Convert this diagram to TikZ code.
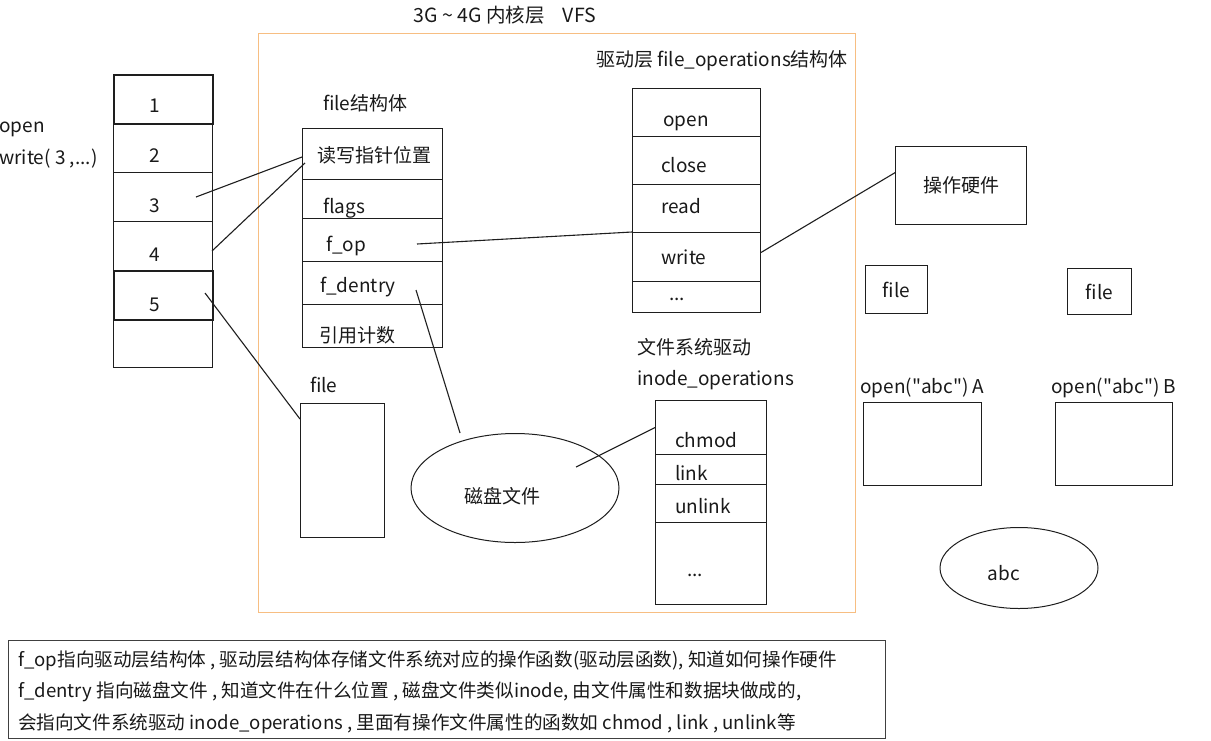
\documentclass[tikz,border=0pt]{standalone}
\usepackage{fontspec}
\setmainfont{Noto Sans CJK SC}[Ligatures=TeXOff]
\usetikzlibrary{positioning}
\usetikzlibrary{shapes.geometric}
\definecolor{vfsorange}{RGB}{247,190,130}
\definecolor{linegray}{RGB}{30,30,30}
\tikzset{cell/.style = {draw=linegray, line width=1pt, inner sep=0, anchor=north west}}
\tikzset{txt/.style = {inner sep=0, anchor=west}}
\tikzset{
  every picture/.style={
    x=1pt, y=-1pt,
    every node/.style={font=\fontsize{19}{22}\selectfont, text=black!90},
  }
}

\begin{document}
\begin{tikzpicture}
  \useasboundingbox (0,0) rectangle (1211,740);
  % kernel area
  \node[cell, draw=vfsorange, line width=1.4pt, minimum width=597, minimum height=579] (vfs) at (258,33) {};
  \node[font=\fontsize{19.5}{22}\selectfont] (vfstitle) at (505,15) {3G \textasciitilde{} 4G 内核层\hspace{18pt}VFS};

  % user space calls
  \node[txt] (open) at (-1,129) {open};
  \node[txt] (write) at (-1,159) {write( 3 ,...)};

  % fd table
  \node[cell, minimum width=99, minimum height=49] (fd2) at (113,123) {};
  \node[cell, minimum width=99, minimum height=49] (fd3) at (113,172) {};
  \node[cell, minimum width=99, minimum height=49] (fd4) at (113,221) {};
  \node[cell, minimum width=99, minimum height=48] (fd6) at (113,319) {};
  \node[cell, line width=1.5pt, minimum width=99, minimum height=49] (fd1) at (113,74) {};
  \node[cell, line width=1.5pt, minimum width=99, minimum height=49] (fd5) at (113,270) {};
  \foreach \i/\y in {1/106,2/156,3/206,4/255,5/305}
    \node (n\i) at (155,\y) {\i};

  % file struct
  \node[txt] (filetitle) at (323,103) {file结构体};
  \node[cell, minimum width=140, minimum height=51] (rw) at (302,128) {};
  \node[cell, minimum width=140, minimum height=39] (flg) at (302,179) {};
  \node[cell, minimum width=140, minimum height=43] (fop) at (302,218) {};
  \node[cell, minimum width=140, minimum height=43] (fden) at (302,261) {};
  \node[cell, minimum width=140, minimum height=43] (cnt) at (302,304) {};
  \node[txt] (trw) at (317,155) {读写指针位置};
  \node[txt] (tflg) at (323,208) {flags};
  \node[txt] (tfop) at (326,246) {f\_op};
  \node[txt] (tfden) at (320,287) {f\_dentry};
  \node[txt] (tcnt) at (319,335) {引用计数};

  % other file
  \node[txt] (fboxtitle) at (310,385) {file};
  \node[cell, minimum width=84, minimum height=134] (fbox) at (300,403) {};

  % file_operations
  \node[txt] (opstitle) at (596,61) {驱动层 file\_operations结构体};
  \node[cell, minimum width=128, minimum height=48] (fopen) at (632,88) {};
  \node[cell, minimum width=128, minimum height=48] (fclose) at (632,136) {};
  \node[cell, minimum width=128, minimum height=48] (fread) at (632,184) {};
  \node[cell, minimum width=128, minimum height=49] (fwrite) at (632,232) {};
  \node[cell, minimum width=128, minimum height=31] (fmore) at (632,281) {};
  \node[txt] (topen) at (663,123) {open};
  \node[txt] (tclose) at (661,165) {close};
  \node[txt] (tread) at (661,206) {read};
  \node[txt] (twrite) at (661,257) {write};
  \node[txt] (tfmore) at (669,299) {...};

  % disk file
  \node[draw=linegray, ellipse, line width=1pt, minimum width=208, minimum height=109] (disk) at (515,488) {};
  \node (tdisk) at (502,496) {磁盘文件};

  % inode_operations
  \node[txt] (inotitle1) at (637,347) {文件系统驱动};
  \node[txt] (inotitle2) at (637,380) {inode\_operations};
  \node[cell, minimum width=111, minimum height=54] (ichmod) at (655,400) {};
  \node[cell, minimum width=111, minimum height=30] (ilink) at (655,454) {};
  \node[cell, minimum width=111, minimum height=38] (iunlink) at (655,484) {};
  \node[cell, minimum width=111, minimum height=82] (imore) at (655,522) {};
  \node[txt] (tchmod) at (675,440) {chmod};
  \node[txt] (tlink) at (675,473) {link};
  \node[txt] (tunlink) at (675,506) {unlink};
  \node[txt] (timore) at (687,575) {...};

  % hardware
  \node[cell, minimum width=131, minimum height=78] (hw) at (895,146) {操作硬件};

  % two processes
  \node[cell, minimum width=62, minimum height=48] (fileA) at (865,265) {file};
  \node[cell, minimum width=64, minimum height=46] (fileB) at (1067,268) {file};
  \node[txt] (topenA) at (860,388) {open("abc") A};
  \node[txt] (topenB) at (1051,388) {open("abc") B};
  \node[cell, minimum width=118, minimum height=83] (procA) at (863,402) {};
  \node[cell, minimum width=117, minimum height=83] (procB) at (1055,402) {};
  \node[draw=linegray, ellipse, line width=1pt, minimum width=158, minimum height=81] (abc) at (1019,568) {};
  \node (tabc) at (1004,573) {abc};

  % connector ends
  \coordinate (c3) at (196,197);
  \coordinate (c4) at (212,251);
  \coordinate (c5) at (205,293);
  \coordinate (crw1) at (302,157);
  \coordinate (crw2) at (305,163);
  \coordinate (cfbox) at (300,419);
  \coordinate (cfop) at (417,244);
  \coordinate (cfden) at (416,290);
  \coordinate (cdisk) at (460,433);
  \coordinate (cdin) at (576,467);

  \draw[linegray, line width=1.1pt] (c3) -- (crw1);
  \draw[linegray, line width=1.1pt] (c4) -- (crw2);
  \draw[linegray, line width=1.1pt] (c5) -- (cfbox);
  \draw[linegray, line width=1.1pt] (cfop) -- (fwrite.north west);
  \draw[linegray, line width=1.1pt] (cfden) -- (cdisk);
  \draw[linegray, line width=1.1pt] (fwrite.4) -- (hw.169);
  \draw[linegray, line width=1.1pt] (cdin) -- (ichmod.west);

  % note
  \node[cell, draw=black!75, line width=1.3pt, minimum width=877, minimum height=98] (note) at (8,640) {};
  \node[txt, align=left, font=\fontsize{18.6}{31.5}\selectfont] (notetext) at (18,692)
    {f\_op指向驱动层结构体 , 驱动层结构体存储文件系统对应的操作函数(驱动层函数), 知道如何操作硬件\\
     f\_dentry 指向磁盘文件 , 知道文件在什么位置 , 磁盘文件类似inode, 由文件属性和数据块做成的,\\
     会指向文件系统驱动 inode\_operations , 里面有操作文件属性的函数如 chmod , link , unlink等};
\end{tikzpicture}
\end{document}
